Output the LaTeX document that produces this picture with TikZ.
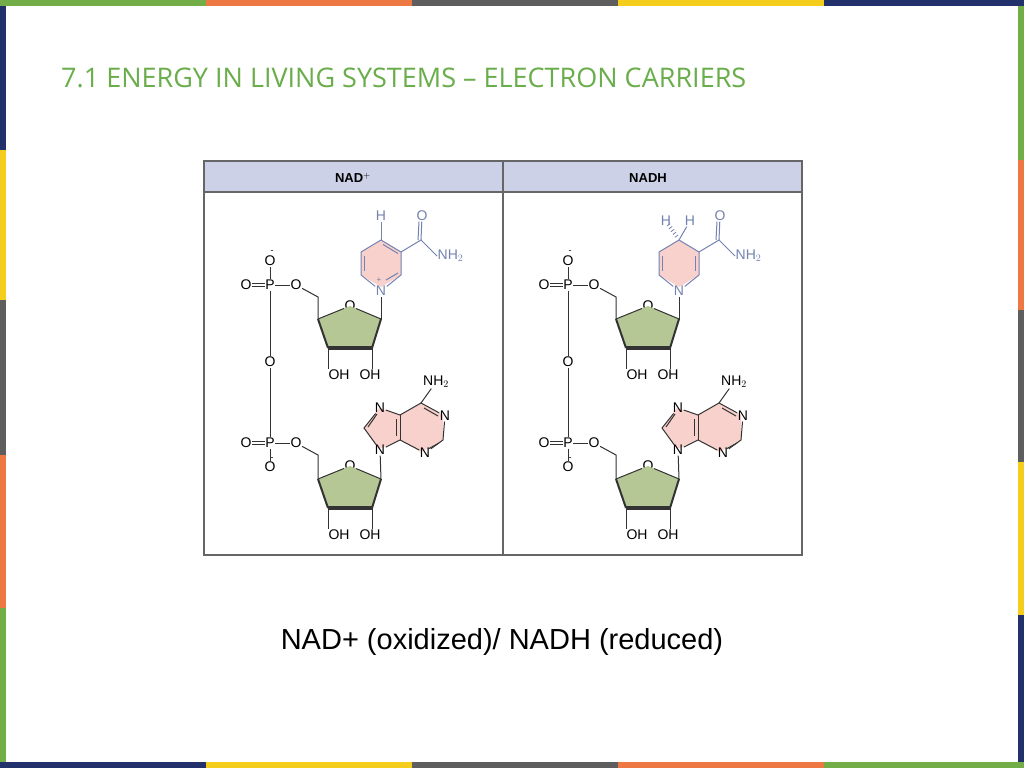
\documentclass[tikz,border=0pt]{standalone}
\usetikzlibrary{calc}
\usepackage{fontspec}
\setmainfont{Liberation Sans}
\newfontfamily\titlefont{Open Sans}
\begin{document}
\begin{tikzpicture}[x=1pt,y=-1pt,
  atom/.style={inner sep=0.5pt,font=\fontsize{14}{14}\selectfont},
  batom/.style={atom,text=ringc},
  bond/.style={line width=1pt,draw=black!80},
  rbond/.style={line width=1pt,draw=ringc},
  hdr/.style={font=\bfseries\fontsize{13}{13}\selectfont}]
\definecolor{cg}{HTML}{72AD47}\definecolor{co}{HTML}{EE7843}\definecolor{cy}{HTML}{F5CD1C}
\definecolor{cgr}{HTML}{5E5E5E}\definecolor{cn}{HTML}{22306B}
\definecolor{ringc}{HTML}{7382B0}\definecolor{pinkf}{HTML}{F8D0CC}\definecolor{sugar}{HTML}{B6C796}
\definecolor{hdrc}{HTML}{CDD1E8}\definecolor{titlec}{HTML}{6AAE4C}
\useasboundingbox (0,0) rectangle (1024,768);
\fill[white] (0,0) rectangle (1024,768);
% frame bars
\foreach \a/\b/\c in {0/206/cg,206/412/co,412/618/cgr,618/824/cy,824/1024/cn}{\fill[\c] (\a,0) rectangle (\b,6);}
\foreach \a/\b/\c in {0/206/cn,206/412/cy,412/618/cgr,618/824/co,824/1024/cg}{\fill[\c] (\a,762) rectangle (\b,768);}
\foreach \a/\b/\c in {6/150/cn,150/300/cy,300/455/cgr,455/608/co,608/762/cg}{\fill[\c] (0,\a) rectangle (6,\b);}
\foreach \a/\b/\c in {6/160/cg,160/310/co,310/462/cgr,462/615/cy,615/762/cn}{\fill[\c] (1018,\a) rectangle (1024,\b);}
\node[anchor=west,text=titlec,font=\titlefont\fontsize{27}{28}\selectfont,inner sep=0pt] (title) at (61,78) {7.1 ENERGY IN LIVING SYSTEMS – ELECTRON CARRIERS};
% panel
\fill[hdrc] (204,161) rectangle (802,192);
\draw[black!60,line width=2.5pt] (204,161) rectangle (802,555);
\draw[black!60,line width=2pt] (204,192) -- (802,192);
\draw[black!60,line width=2.5pt] (503,161) -- (503,555);
\node[hdr] (h1) at (353,178) {NAD$^{\mathbf{+}}$};
\node[hdr] (h2) at (648,178) {NADH};
\tikzset{mol/.pic={
 % pyridine
 \coordinate (c4) at (381,240); \coordinate (c3) at (401,252); \coordinate (c2) at (401,275);
 \coordinate (c6) at (361,275); \coordinate (c5) at (361,252);
 \fill[pinkf] (c4)--(c3)--(c2)--(381,287)--(c6)--(c5)--cycle;
 \node[batom] (n1) at (381,291) {N};
 \draw[rbond] (c4)--(c3)--(c2)--(n1)--(c6)--(c5)--(c4);
 \coordinate (cc) at (421,240);
 \node[batom] (oc) at (422,216) {O};
 \node[batom,anchor=west] (nh) at (437,256) {NH$_2$};
 \draw[rbond] (c3)--(cc)--(nh.west);
 \draw[rbond] (cc)--(oc); \draw[rbond] ([xshift=-3pt]cc)--([xshift=-3pt]oc.south);
 % ribose 1
 \node[atom] (o4a) at (350,306) {O};
 \coordinate (r1) at (381,319); \coordinate (r2) at (372,348); \coordinate (r3) at (328,348); \coordinate (r4) at (318,319);
 \fill[sugar] (o4a.center)--(r1)--(r2)--(r3)--(r4)--cycle;
 \draw[bond] (o4a)--(r1); \draw[bond] (o4a)--(r4);
 \draw[bond,line width=2pt] (r1)--(r2); \draw[bond,line width=2pt] (r4)--(r3);
 \draw[bond,line width=3.5pt] (r2)--(r3);
 \draw[bond] (r1)--(n1);
 \node[atom] (oha) at (339,375) {OH}; \node[atom] (ohb) at (370,375) {OH};
 \draw[bond] (r3)--(r3|-oha.north); \draw[bond] (r2)--(r2|-ohb.north);
 \coordinate (c5a) at (318,297); \node[atom] (o5a) at (296,285) {O};
 \draw[bond] (r4)--(c5a)--(o5a);
 % phosphates
 \node[atom] (p1) at (270,285) {P}; \node[atom] (od1) at (246,285) {O};
 \node[atom] (om1) at (270,261) {O}; \node[inner sep=0pt,font=\fontsize{9}{9}\selectfont] (mm1) at (272,252) {-};
 \node[atom] (ob) at (270,362) {O};
 \node[atom] (p2) at (270,443) {P}; \node[atom] (od2) at (246,443) {O};
 \node[atom] (om2) at (270,467) {O}; \node[inner sep=0pt,font=\fontsize{9}{9}\selectfont] (mm2) at (272,459) {-};
 \node[atom] (o5b) at (296,443) {O};
 \draw[bond] (p1)--(o5a); \draw[bond] (p1)--(om1); \draw[bond] (p1)--(ob)--(p2)--(om2);
 \draw[bond] (p2)--(o5b);
 \draw[bond] ([yshift=-1.6pt]od1.east)--([yshift=-1.6pt]p1.west); \draw[bond] ([yshift=1.6pt]od1.east)--([yshift=1.6pt]p1.west);
 \draw[bond] ([yshift=-1.6pt]od2.east)--([yshift=-1.6pt]p2.west); \draw[bond] ([yshift=1.6pt]od2.east)--([yshift=1.6pt]p2.west);
 % ribose 2
 \node[atom] (o4b) at (350,466) {O};
 \coordinate (s1) at (381,479); \coordinate (s2) at (372,508); \coordinate (s3) at (328,508); \coordinate (s4) at (318,479);
 \fill[sugar] (o4b.center)--(s1)--(s2)--(s3)--(s4)--cycle;
 \draw[bond] (o4b)--(s1); \draw[bond] (o4b)--(s4);
 \draw[bond,line width=2pt] (s1)--(s2); \draw[bond,line width=2pt] (s4)--(s3);
 \draw[bond,line width=3.5pt] (s2)--(s3);
 \node[atom] (ohc) at (339,535) {OH}; \node[atom] (ohd) at (370,535) {OH};
 \draw[bond] (s3)--(s3|-ohc.north); \draw[bond] (s2)--(s2|-ohd.north);
 \coordinate (c5b) at (318,455); \draw[bond] (s4)--(c5b)--(o5b);
 % adenine
 \coordinate (a5) at (400,415); \coordinate (a4) at (400,440); \coordinate (a6) at (421,403);
 \coordinate (a8) at (364,428); \coordinate (a2) at (443,440);
 \fill[pinkf] (a5)--(a6)--(443,415)--(443,440)--(421,452)--(a4)--(379,449)--(a8)--(379,408)--cycle;
 \node[atom] (n9) at (380,450) {N}; \node[atom] (n7) at (380,408) {N};
 \node[atom] (na1) at (445,416) {N}; \node[atom] (na3) at (425,453) {N};
 \node[atom] (nh2) at (436,382) {NH$_2$};
 \draw[bond] (n9)--(a8)--(n7)--(a5)--(a6)--(na1)--(a2)--(na3)--(a4)--(n9);
 \draw[bond] (a4)--(a5); \draw[bond] (a6)--(nh2);
 \draw[bond] (368,427)--(377,414);
 \draw[bond] (396,419)--(396,436);
 \draw[bond] (424,408)--(438,416);
 \draw[bond] (439,443)--(428,449);
 \draw[bond] (n9)--(s1);
}}
\pic (L) at (0,0) {mol};
\pic (R) at (298,0) {mol};
% NAD+ specifics
\node[batom] (hL) at (381,216) {H};
\draw[rbond] (381,240)--(hL);
\node[inner sep=0pt,text=ringc,font=\fontsize{8}{8}\selectfont] (plusL) at (379,280) {+};
\draw[rbond] (364.5,256)--(364.5,271);
\draw[rbond] (383,244.5)--(398,253.5);
\draw[rbond] (398,273)--(386,280);
% NADH specifics
\node[batom] (hR1) at (666,221) {H}; \node[batom] (hR2) at (690,221) {H};
\coordinate (c4R) at (679,240);
\draw[rbond] (c4R)--(hR2);
\foreach \t in {0.2,0.35,0.5,0.65,0.8}{\draw[rbond,line width=0.8pt] ($(c4R)!\t!(hR1)+(1.6,-1.2)$)--($(c4R)!\t!(hR1)-(1.6,-1.2)$);}
\draw[rbond] (662.5,256)--(662.5,271);
\draw[rbond] (695.5,256)--(695.5,271);
\node[font=\fontsize{29}{30}\selectfont] (cap) at (502,642) {NAD+ (oxidized)/ NADH (reduced)};
\end{tikzpicture}
\end{document}
